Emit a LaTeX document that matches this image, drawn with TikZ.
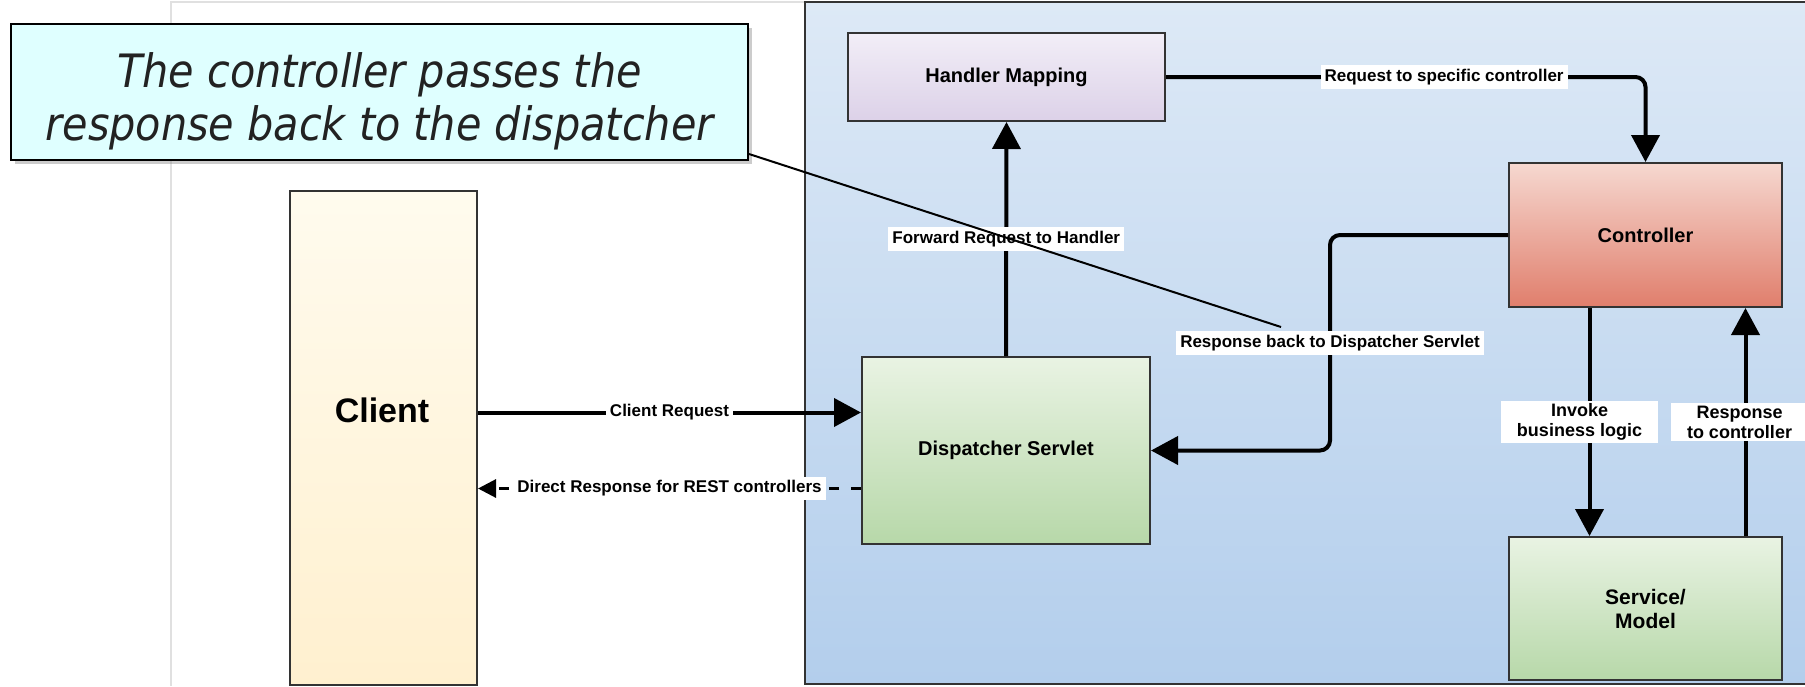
\documentclass[tikz,border=0pt]{standalone}
\usepackage{fontspec}
\setmainfont{Liberation Sans}
\newfontfamily\notefont{DejaVu Sans Condensed}
\usetikzlibrary{arrows.meta,calc,shadows,shadings}
\definecolor{clienttop}{HTML}{FFFBEE}
\definecolor{clientbot}{HTML}{FFF0CF}
\definecolor{hmtop}{HTML}{F2EEF7}
\definecolor{hmbot}{HTML}{DCD1E8}
\definecolor{ctrltop}{HTML}{F6D8D0}
\definecolor{ctrlbot}{HTML}{E07E6C}
\definecolor{greentop}{HTML}{E9F3E3}
\definecolor{greenbot}{HTML}{B7D8A9}
\definecolor{frametop}{HTML}{DDE9F6}
\definecolor{framebot}{HTML}{B3CEEC}
\definecolor{notebg}{HTML}{DFFFFF}
\definecolor{notetext}{HTML}{222222}
\begin{document}
\begin{tikzpicture}[x=1pt,y=-1pt,
    box/.style={draw=black!80,line width=2pt,anchor=north west,align=center,
        font={\fontsize{20}{24}\selectfont\bfseries}},
    arr/.style={line width=4pt,-{Triangle[length=27pt,width=28pt]}},
    dasharr/.style={line width=3pt,dash pattern=on 10pt off 12pt,-{Triangle[length=18pt,width=18pt]}},
    lbl/.style={fill=white,sharp corners,inner xsep=4pt,inner ysep=4pt,font={\fontsize{17}{20}\selectfont\bfseries}},
    lbltwo/.style={fill=white,sharp corners,align=center,inner xsep=16pt,inner ysep=3pt,font={\fontsize{18}{20}\selectfont\bfseries}}]
    \useasboundingbox (0,0) rectangle (1805,686);
    \clip (0,0) rectangle (1805,686);
    \fill[white] (0,0) rectangle (1805,686);
    \draw[black!12,line width=1.5pt] (171,686) -- (171,2) -- (805,2);

    % frame
    \draw[draw=black!80,line width=2.5pt,top color=frametop,bottom color=framebot] (805,2) rectangle (1815,684);

    \node[box,top color=clienttop,bottom color=clientbot,minimum width=187,minimum height=494] (client) at (289,190) {};
    \node[font={\fontsize{34}{40}\selectfont\bfseries}] (clientlbl) at (382,410) {Client};
    \node[box,top color=greentop,bottom color=greenbot,minimum width=288,minimum height=187] (ds) at (861,356) {Dispatcher Servlet};
    \node[box,top color=hmtop,bottom color=hmbot,minimum width=317,minimum height=88] (hm) at (847,32) {Handler Mapping};
    \node[box,top color=ctrltop,bottom color=ctrlbot,minimum width=273,minimum height=144] (ctrl) at (1508,162) {Controller};
    \node[box,top color=greentop,bottom color=greenbot,minimum width=273,minimum height=143,
        font={\fontsize{21}{24}\selectfont\bfseries}] (svc) at (1508,536) {Service/\\Model};

    \coordinate (req) at ([yshift=38pt]ds.west);
    \coordinate (rest) at ([yshift=-38pt]ds.west);
    \coordinate (bend) at ($(ds.east)+(179,0)$);

    \draw[arr] (req -| client.east) -- (req) node[lbl,midway] {Client Request};
    \draw[dasharr] (rest) -- (rest -| client.east) node[lbl,midway] {Direct Response for REST controllers};
    \draw[arr] (ds.north) -- (hm.south) node[lbl,midway] {Forward Request to Handler};
    \draw[arr,rounded corners=10pt] (hm.east) -| node[lbl,pos=0.29] {Request to specific controller} (ctrl.north);
    \draw[arr,rounded corners=10pt] (ctrl.west) -| node[lbl,pos=0.75] (rback) {Response back to Dispatcher Servlet} (bend) -- (ds.east);
    \draw[arr] ([xshift=-56pt]ctrl.south) -- ([xshift=-56pt]svc.north) node[lbltwo,midway,xshift=-10pt] {Invoke\\business logic};
    \draw[arr] ([xshift=100pt]svc.north) -- ([xshift=100pt]ctrl.south) node[lbltwo,midway,xshift=-6pt] {Response\\to controller};

    % callout
    \node[draw=black,line width=2pt,fill=notebg,text=notetext,anchor=north west,minimum width=737,minimum height=136,align=center,
        drop shadow={shadow xshift=4pt,shadow yshift=-4pt,opacity=0.4},
        font={\notefont\itshape\fontsize{46}{53}\selectfont}] (note) at (10,23)
        {\rule{0pt}{54pt}The controller passes the\\response back to the dispatcher};
    \coordinate (ptr) at (1281,327);
    \draw[line width=2pt] ([yshift=7pt]note.south east) -- (ptr);
\end{tikzpicture}
\end{document}
